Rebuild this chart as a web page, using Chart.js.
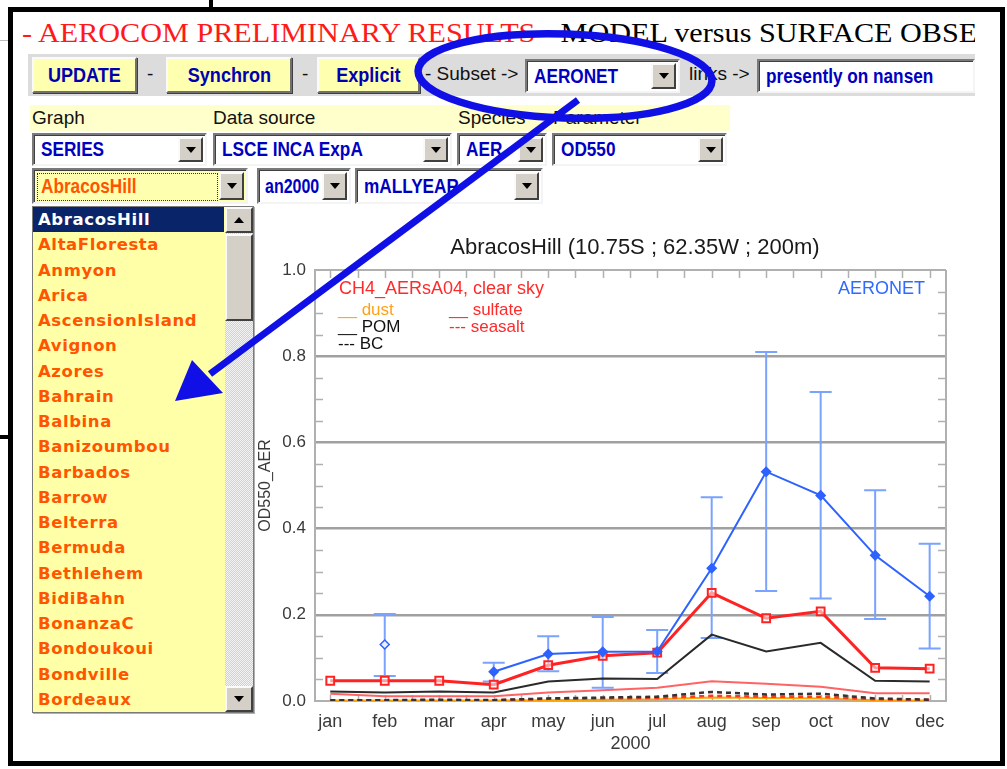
<!DOCTYPE html>
<html>
<head>
<meta charset="utf-8">
<title>AEROCOM preliminary results</title>
<script src="https://cdn.jsdelivr.net/npm/chart.js@4.4.1/dist/chart.umd.min.js"></script>
<style>
  body { margin: 0; width: 1007px; height: 769px; background: #fff; position: relative; overflow: hidden;
         font-family: "Liberation Sans", Arial, sans-serif; }
  .abs { position: absolute; }
  .frame { left: 8px; top: 7px; width: 997px; height: 759px; box-sizing: border-box; border: 5px solid #000; }
  .ttlbox { left: 22px; top: 13px; width: 953px; height: 40px; overflow: hidden; white-space: nowrap; }
  .ttl { display: inline-block; transform-origin: 0 0; font-family: "Liberation Serif", "Times New Roman", serif;
         font-size: 28px; line-height: 40px; color: #000; }
  .ttl .red { color: #ff1a1a; }
  .bar { left: 28px; top: 54px; width: 947px; height: 42px; background: #dcdcdc; }
  .btn { position: absolute; top: 57px; height: 36px; box-sizing: border-box; background: #ffffb0;
         border: 2px solid; border-color: #fafafa #707070 #707070 #fafafa; box-shadow: 1px 1px 0 #404040;
         color: #0000b0; font-weight: bold; font-size: 21px; display: flex; align-items: center; justify-content: center; }
  .btn span { display: inline-block; transform: scaleX(0.86); }
  .txt { position: absolute; font-size: 19px; color: #111; white-space: nowrap; }
  .sel { position: absolute; box-sizing: border-box; background: #fff; border: 2px solid;
         border-color: #7a7a7a #f4f4f4 #f4f4f4 #7a7a7a; box-shadow: inset 1px 1px 0 #404040;
         color: #0000c0; font-weight: bold; font-size: 20px; padding-left: 7px; display: flex; align-items: center; white-space: nowrap; }
  .sel span { display: inline-block; transform: scaleX(0.86); transform-origin: 0 50%; }
  .arr { position: absolute; right: 2px; top: 2px; bottom: 2px; width: 25px; background: #d4d0c8; box-sizing: border-box;
         border: 2px solid; border-color: #fafafa #404040 #404040 #fafafa; z-index: 1; }
  .arr::after { content: ''; position: absolute; left: 50%; top: 50%; margin-left: -5px; margin-top: -3px;
         border-left: 5px solid transparent; border-right: 5px solid transparent; border-top: 6px solid #000; }
  .lab { left: 30px; top: 105px; width: 700px; height: 26px; background: #ffffcc; }
  .lbl { position: absolute; top: 107px; font-size: 19px; color: #111; }
  .lst { left: 32px; top: 206px; width: 222px; height: 507px; background: #ffffa8; box-sizing: border-box;
         border: 1px solid #7a7a7a; box-shadow: 1px 1px 0 #b0b0b0; overflow: hidden; }
  .item { height: 25.26px; line-height: 25.26px; padding-left: 5px; width: 186px; font-family: "DejaVu Sans", Verdana, sans-serif;
          font-weight: bold; font-size: 16.5px; color: #ff5500; letter-spacing: 0.6px; white-space: nowrap; }
  .item.on { background: #0a246a; color: #fff; }
  .track { position: absolute; left: 192px; top: 0; width: 28px; height: 505px;
           background-color: #f4f4f4; background-image: conic-gradient(#d0d0d0 25%, transparent 0 50%, #d0d0d0 0 75%, transparent 0);
           background-size: 2px 2px; }
  .sbtn { position: absolute; left: 0; width: 28px; height: 26px; background: #d4d0c8; box-sizing: border-box;
          border: 2px solid; border-color: #fafafa #404040 #404040 #fafafa; }
  .sbtn::after { content: ''; position: absolute; left: 50%; top: 50%; margin-left: -5px; margin-top: -3px;
          border-left: 5px solid transparent; border-right: 5px solid transparent; }
  .sbtn.up::after { border-bottom: 6px solid #000; }
  .sbtn.dn::after { border-top: 6px solid #000; }
  .thumb { position: absolute; left: 0; top: 27px; width: 28px; height: 87px; background: #d4d0c8; box-sizing: border-box;
           border: 2px solid; border-color: #fafafa #404040 #404040 #fafafa; }
  #chartBox { left: 255px; top: 225px; width: 735px; height: 535px; }
</style>
</head>
<body>
<!-- bits of the page behind -->
<div class="abs" style="left:209px;top:0;width:4px;height:8px;background:#000"></div>
<div class="abs" style="left:0;top:40px;width:9px;height:1px;background:#bbb"></div>
<div class="abs" style="left:0;top:435px;width:10px;height:4px;background:#000"></div>

<div class="abs frame"></div>

<div class="abs ttlbox"><span class="ttl" id="ttl"><span class="red" id="ttlRed">- AEROCOM PRELIMINARY RESULTS -</span> MODEL versus SURFACE OBSERVATIONS</span></div>

<div class="abs bar"></div>
<div class="btn" style="left:32px;width:105px"><span>UPDATE</span></div>
<div class="txt" style="left:147px;top:63px">-</div>
<div class="btn" style="left:166px;width:126px"><span>Synchron</span></div>
<div class="txt" style="left:302px;top:63px">-</div>
<div class="btn" style="left:317px;width:103px"><span>Explicit</span></div>
<div class="txt" style="left:425px;top:63px">- Subset -&gt;</div>
<div class="sel" style="left:525px;top:59px;width:155px;height:34px"><span>AERONET</span><div class="arr"></div></div>
<div class="txt" style="left:689px;top:63px">links -&gt;</div>
<div class="sel" style="left:757px;top:59px;width:218px;height:34px"><span>presently on nansen</span></div>

<div class="abs lab"></div>
<div class="lbl" style="left:32px">Graph</div>
<div class="lbl" style="left:213px">Data source</div>
<div class="lbl" style="left:458px">Species</div>
<div class="lbl" style="left:553px">Parameter</div>

<div class="sel" style="left:32px;top:133px;width:175px;height:33px"><span>SERIES</span><div class="arr"></div></div>
<div class="sel" style="left:213px;top:133px;width:239px;height:33px"><span>LSCE INCA ExpA</span><div class="arr"></div></div>
<div class="sel" style="left:457px;top:133px;width:90px;height:33px"><span>AER</span><div class="arr"></div></div>
<div class="sel" style="left:552px;top:133px;width:175px;height:33px"><span>OD550</span><div class="arr"></div></div>

<div class="sel" style="left:32px;top:168px;width:216px;height:36px;background:#ffffb0;color:#ff5500">
  <div class="abs" style="left:3px;top:3px;width:179px;height:26px;border:1px dotted #333"></div><span>AbracosHill</span><div class="arr"></div></div>
<div class="sel" style="left:257px;top:168px;width:94px;height:36px;padding-left:6px"><span style="transform:scaleX(0.8)">an2000</span><div class="arr"></div></div>
<div class="sel" style="left:355px;top:168px;width:188px;height:36px"><span>mALLYEAR</span><div class="arr"></div></div>

<div class="abs lst" id="lst">
  <div class="track">
    <div class="sbtn up" style="top:0"></div>
    <div class="thumb"></div>
    <div class="sbtn dn" style="bottom:0"></div>
  </div>
</div>

<div class="abs" id="chartBox"><canvas id="chart" width="735" height="535"></canvas></div>

<svg class="abs" style="left:0;top:0;z-index:10" width="1007" height="769">
  <ellipse cx="565" cy="76" rx="147" ry="42" fill="none" stroke="#1010e6" stroke-width="7.5" transform="rotate(2 565 76)"/>
  <line x1="578" y1="100" x2="210" y2="374" stroke="#1010e6" stroke-width="7"/>
  <polygon points="175,401 192,360 223,393" fill="#1010e6"/>
</svg>

<script>
// --- station list (dropdown) ---
const stations = ['AbracosHill', 'AltaFloresta', 'Anmyon', 'Arica', 'AscensionIsland', 'Avignon', 'Azores',
  'Bahrain', 'Balbina', 'Banizoumbou', 'Barbados', 'Barrow', 'Belterra', 'Bermuda', 'Bethlehem',
  'BidiBahn', 'BonanzaC', 'Bondoukoui', 'Bondville', 'Bordeaux'];

// --- chart data (AbracosHill, 2000, OD550_AER) ---
const months = ['jan', 'feb', 'mar', 'apr', 'may', 'jun', 'jul', 'aug', 'sep', 'oct', 'nov', 'dec'];
const yTicks = [0, 0.2, 0.4, 0.6, 0.8, 1.0];
const aeronet     = [null, 0.131, null, 0.068, 0.109, 0.114, 0.115, 0.308, 0.532, 0.477, 0.338, 0.243];
const aeronetLow  = [null, 0.058, null, 0.045, 0.069, 0.031, 0.065, 0.146, 0.255, 0.238, 0.190, 0.122];
const aeronetHigh = [null, 0.202, null, 0.089, 0.150, 0.195, 0.165, 0.473, 0.810, 0.717, 0.489, 0.365];
const modelTotal  = [0.047, 0.047, 0.047, 0.038, 0.083, 0.105, 0.112, 0.251, 0.192, 0.208, 0.077, 0.075];
const pom         = [0.022, 0.020, 0.022, 0.020, 0.045, 0.052, 0.051, 0.154, 0.115, 0.135, 0.047, 0.045];
const sulfate     = [0.017, 0.011, 0.011, 0.011, 0.020, 0.025, 0.031, 0.046, 0.040, 0.033, 0.018, 0.018];
const bc          = [0.002, 0.002, 0.003, 0.002, 0.006, 0.008, 0.010, 0.021, 0.015, 0.017, 0.006, 0.003];
const seasalt     = [0.002, 0.002, 0.002, 0.002, 0.005, 0.006, 0.007, 0.012, 0.010, 0.010, 0.004, 0.003];
const dust        = [0.001, 0.001, 0.001, 0.001, 0.002, 0.003, 0.004, 0.008, 0.007, 0.006, 0.002, 0.001];

const lst = document.getElementById('lst');
stations.forEach((s, i) => {
  const d = document.createElement('div');
  d.className = 'item' + (i === 0 ? ' on' : '');
  d.textContent = s;
  lst.appendChild(d);
});

// stretch page title like the screenshot
const ttl = document.getElementById('ttl');
const redW = document.getElementById('ttlRed').getBoundingClientRect().width;
ttl.style.transform = 'scaleX(' + (531 / redW) + ')';

const pts = arr => arr.map((v, i) => ({ x: i, y: v }));

const AXIS = '#b0b0b0';
const INK = '#3a3a3a';

// frame, minor ticks, error bars, in-plot legend and title
const idlDecor = {
  id: 'idlDecor',
  beforeDatasetsDraw(chart) {
    const { ctx, chartArea: a, scales: { x, y } } = chart;
    ctx.save();
    ctx.strokeStyle = AXIS;
    ctx.lineWidth = 2;
    ctx.beginPath();
    ctx.moveTo(a.right, a.top); ctx.lineTo(a.right, a.bottom);
    ctx.stroke();

    ctx.lineWidth = 1.5;
    ctx.beginPath();
    for (let k = 1; k < 20; k++) {
      if (k % 4 === 0) continue;
      const py = Math.round(y.getPixelForValue(k * 0.05)) + 0.5;
      ctx.moveTo(a.left, py); ctx.lineTo(a.left + 8, py);
      ctx.moveTo(a.right, py); ctx.lineTo(a.right - 8, py);
    }
    for (let t = 0; t <= 22; t++) {
      const px = Math.round(x.getPixelForValue(t / 2)) + 0.5;
      ctx.moveTo(px, a.top); ctx.lineTo(px, a.top + 8);
      ctx.moveTo(px, a.bottom); ctx.lineTo(px, a.bottom - 6);
    }
    ctx.stroke();

    // AERONET error bars
    ctx.strokeStyle = '#7aa2ff';
    ctx.lineWidth = 2;
    ctx.beginPath();
    aeronetLow.forEach((lo, i) => {
      if (lo === null) return;
      const px = x.getPixelForValue(i);
      const p1 = y.getPixelForValue(lo);
      const p2 = y.getPixelForValue(aeronetHigh[i]);
      ctx.moveTo(px, p1); ctx.lineTo(px, p2);
      ctx.moveTo(px - 11, p1); ctx.lineTo(px + 11, p1);
      ctx.moveTo(px - 11, p2); ctx.lineTo(px + 11, p2);
    });
    ctx.stroke();
    ctx.restore();
  },
  afterDraw(chart) {
    const { ctx } = chart;
    ctx.save();
    ctx.textBaseline = 'middle';
    ctx.font = '22px "Liberation Sans", Arial, sans-serif';
    ctx.fillStyle = '#1a1a1a';
    ctx.textAlign = 'center';
    ctx.fillText('AbracosHill (10.75S ; 62.35W ; 200m)', 380, 23);

    ctx.font = '18px "Liberation Sans", Arial, sans-serif';
    ctx.textAlign = 'left';
    ctx.fillStyle = '#ff2a2a';
    ctx.fillText('CH4_AERsA04, clear sky', 84, 64);
    ctx.textAlign = 'right';
    ctx.fillStyle = '#2f6bff';
    ctx.fillText('AERONET', 670, 64);

    ctx.textAlign = 'left';
    ctx.font = '17px "Liberation Sans", Arial, sans-serif';
    const rows = [
      ['__ dust', '#ffa21a', 83, 85], ['__ sulfate', '#ff2a2a', 194, 85],
      ['__ POM', '#111', 83, 102], ['--- seasalt', '#ff2a2a', 194, 102],
      ['--- BC', '#111', 83, 119]
    ];
    rows.forEach(([t, c, lx, ly]) => { ctx.fillStyle = c; ctx.fillText(t, lx, ly); });
    ctx.restore();
  }
};

Chart.defaults.font.family = '"Liberation Sans", Arial, sans-serif';

new Chart(document.getElementById('chart'), {
  type: 'line',
  data: {
    datasets: [
      {
        label: 'AERONET', data: pts(aeronet), borderColor: '#2d62ff', borderWidth: 2,
        pointStyle: 'rectRot', pointRadius: 4.5, pointBorderWidth: 1.5, pointBorderColor: '#2d62ff',
        pointBackgroundColor: aeronet.map((v, i) => (i === 1 ? '#e6eeff' : '#2d62ff'))
      },
      {
        label: 'CH4_AERsA04', data: pts(modelTotal), borderColor: '#ff2222', borderWidth: 3,
        pointStyle: 'rect', pointRadius: 5.5, pointBorderWidth: 2, pointBorderColor: '#ff2222',
        pointBackgroundColor: 'rgba(255,255,255,0.55)'
      },
      { label: 'POM', data: pts(pom), borderColor: '#2a2a2a', borderWidth: 2, pointRadius: 0 },
      { label: 'sulfate', data: pts(sulfate), borderColor: '#ff6464', borderWidth: 2, pointRadius: 0 },
      { label: 'BC', data: pts(bc), borderColor: '#333', borderWidth: 2.5, borderDash: [5, 4], pointRadius: 0 },
      { label: 'seasalt', data: pts(seasalt), borderColor: '#ff3a1a', borderWidth: 2.5, borderDash: [5, 4], pointRadius: 0 },
      { label: 'dust', data: pts(dust), borderColor: '#ffa500', borderWidth: 2, pointRadius: 0 }
    ]
  },
  options: {
    responsive: false,
    animation: false,
    layout: { padding: { top: 45, right: 44, left: 0, bottom: 0 } },
    plugins: { legend: { display: false }, tooltip: { enabled: false }, title: { display: false } },
    scales: {
      x: {
        type: 'linear', min: -0.28, max: 11.3,
        afterBuildTicks: ax => { ax.ticks = months.map((m, i) => ({ value: i })); },
        afterFit: s => { s.height = 59; },
        grid: { display: false, drawTicks: false },
        border: { color: AXIS, width: 2 },
        ticks: { callback: v => months[v], color: INK, font: { size: 18 }, padding: 10, maxRotation: 0, autoSkip: false },
        title: { display: true, text: '2000', color: INK, font: { size: 18 }, padding: { top: 0, bottom: 5 } }
      },
      y: {
        min: 0, max: 1,
        afterBuildTicks: ax => { ax.ticks = yTicks.map(v => ({ value: v })); },
        afterFit: s => { s.width = 60; },
        grid: {
          drawTicks: false,
          color: c => (c.tick.value === 0 || c.tick.value === 1 ? AXIS : '#a0a0a0'),
          lineWidth: c => (c.tick.value === 0 || c.tick.value === 1 ? 2 : 2.5)
        },
        border: { color: AXIS, width: 2 },
        ticks: { callback: v => v.toFixed(1), color: INK, font: { size: 17 }, padding: 9 },
        title: { display: true, text: 'OD550_AER', color: INK, font: { size: 16 }, padding: { top: 1, bottom: 0 } }
      }
    }
  },
  plugins: [idlDecor]
});
</script>
</body>
</html>
